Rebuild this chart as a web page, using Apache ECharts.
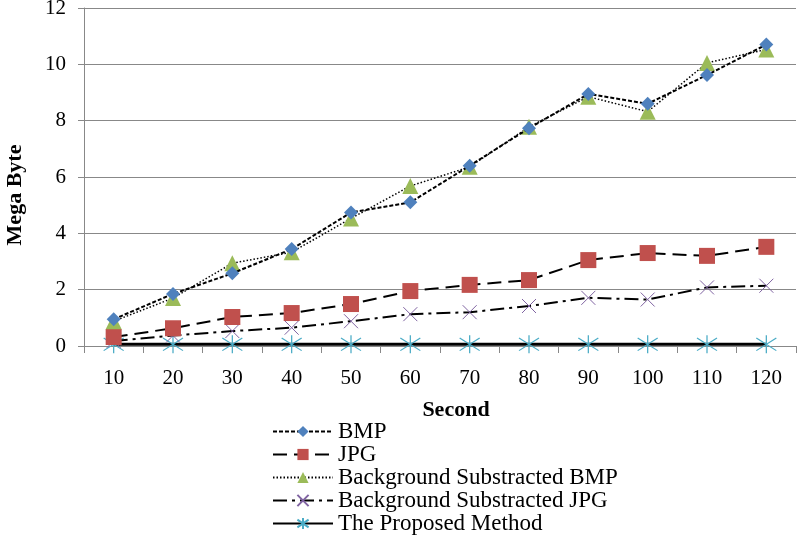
<!DOCTYPE html>
<html><head><meta charset="utf-8">
<script src="https://cdn.jsdelivr.net/npm/echarts@6/dist/echarts.min.js"></script>
<style>html,body{margin:0;padding:0;background:#fff}#c{width:802px;height:539px}</style>
</head><body><div id="c"></div>
<script>
const categories = ['10','20','30','40','50','60','70','80','90','100','110','120'];
const bmp = [0.95,1.85,2.58,3.44,4.74,5.1,6.4,7.73,8.95,8.6,9.62,10.7];
const jpg = [0.32,0.63,1.03,1.17,1.49,1.95,2.17,2.34,3.05,3.3,3.2,3.52];
const bsBmp = [0.88,1.7,2.94,3.33,4.53,5.68,6.36,7.78,8.85,8.32,10.05,10.53];
const bsJpg = [0.18,0.37,0.53,0.65,0.88,1.13,1.2,1.42,1.71,1.65,2.08,2.14];
const proposed = [0.06,0.06,0.06,0.06,0.06,0.06,0.06,0.06,0.06,0.06,0.06,0.06];
const seriesNames = ['BMP','JPG','Background Substracted BMP','Background Substracted JPG','The Proposed Method'];

const font = '"Liberation Serif","Times New Roman",serif';
const xPath = 'path://M-8,-8L8,8M-8,8L8,-8';
const starPath = 'path://M0,-10L0,10M-9,-7L9,7M-9,7L9,-7';

const chart = echarts.init(document.getElementById('c'));
chart.setOption({
  animation: false,
  backgroundColor: '#fff',
  grid: {left: 84, right: 6, top: 8, bottom: 193, outerBoundsMode: 'none', containLabel: false},
  xAxis: {
    type: 'category', data: categories, boundaryGap: true,
    name: 'Second', nameLocation: 'middle', nameGap: 53,
    nameTextStyle: {fontFamily: font, fontWeight: 'bold', fontSize: 22, color: '#000', padding: [0, 0, 0, 32]},
    axisLine: {lineStyle: {color: '#888'}},
    axisTick: {show: true, length: 7, lineStyle: {color: '#888'}},
    axisLabel: {fontFamily: font, fontSize: 21, color: '#000', margin: 22}
  },
  yAxis: {
    type: 'value', min: 0, max: 12, interval: 2,
    name: 'Mega Byte', nameLocation: 'middle', nameGap: 58, nameRotate: 90,
    nameTextStyle: {fontFamily: font, fontWeight: 'bold', fontSize: 22, color: '#000', padding: [0, 36, 0, 0]},
    axisLine: {show: true, lineStyle: {color: '#888'}},
    axisTick: {show: true, length: 6, lineStyle: {color: '#888'}},
    axisLabel: {fontFamily: font, fontSize: 21, color: '#000', margin: 18},
    splitLine: {lineStyle: {color: '#888', width: 1}}
  },
  legend: {
    orient: 'vertical', left: 272, top: 420, padding: 0, itemGap: 0, itemWidth: 60, itemHeight: 14,
    data: seriesNames,
    textStyle: {fontFamily: font, fontSize: 23, lineHeight: 23, color: '#000'}
  },
  series: [
    {name: seriesNames[0], type: 'line', data: bmp, symbol: 'diamond', symbolSize: 14,
     itemStyle: {color: '#4F81BD'}, lineStyle: {color: '#000', width: 2, type: [4, 2]}, z: 5},
    {name: seriesNames[1], type: 'line', data: jpg, symbol: 'rect', symbolSize: 16,
     itemStyle: {color: '#C0504D'}, lineStyle: {color: '#000', width: 2, type: [14, 7]}, z: 3},
    {name: seriesNames[2], type: 'line', data: bsBmp, symbol: 'triangle', symbolSize: 16,
     itemStyle: {color: '#9BBB59'}, lineStyle: {color: '#000', width: 1.5, type: [1.5, 2]}, z: 4},
    {name: seriesNames[3], type: 'line', data: bsJpg, symbol: xPath, symbolSize: 14,
     itemStyle: {color: 'rgba(0,0,0,0)', borderColor: '#8064A2', borderWidth: 1},
     lineStyle: {color: '#000', width: 2, type: [14, 5, 3, 5]}, z: 2},
    {name: seriesNames[4], type: 'line', data: proposed, symbol: starPath, symbolSize: [20, 18],
     itemStyle: {color: 'rgba(0,0,0,0)', borderColor: '#4BACC6', borderWidth: 1.2},
     lineStyle: {color: '#000', width: 3, type: 'solid'}, z: 1}
  ]
});
</script></body></html>
